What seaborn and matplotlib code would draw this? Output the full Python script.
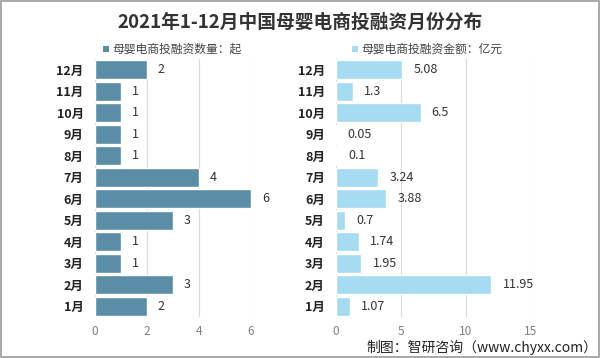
import matplotlib
matplotlib.use("Agg")
import matplotlib.pyplot as plt
import seaborn as sns
import pandas as pd
from matplotlib.patches import Rectangle

months = ["1月", "2月", "3月", "4月", "5月", "6月", "7月", "8月", "9月", "10月", "11月", "12月"]
counts = [2, 3, 1, 1, 3, 6, 4, 1, 1, 1, 1, 2]
amounts = [1.07, 11.95, 1.95, 1.74, 0.7, 3.88, 3.24, 0.1, 0.05, 6.5, 1.3, 5.08]
amount_labels = ["1.07", "11.95", "1.95", "1.74", "0.7", "3.88", "3.24", "0.1", "0.05", "6.5", "1.3", "5.08"]

title = "2021年1-12月中国母婴电商投融资月份分布"
legend_left = "母婴电商投融资数量：起"
legend_right = "母婴电商投融资金额：亿元"
source = "制图：智研咨询（www.chyxx.com）"

sns.set_theme(style="white")
plt.rcParams['font.family'] = ['Noto Sans CJK SC', 'DejaVu Sans']

df = pd.DataFrame({"month": months, "count": counts, "amount": amounts})
order = months[::-1]

fig = plt.figure(figsize=(6.0, 3.58), dpi=100)
fig.patch.set_facecolor("white")
fig.add_artist(Rectangle((0.001, 0.002), 0.997, 0.995, transform=fig.transFigure,
                         fill=False, edgecolor="#9a9a9a", linewidth=1.2))

ax1 = fig.add_axes([0.158, 0.115, 0.26, 0.72])
ax2 = fig.add_axes([0.56, 0.115, 0.325, 0.72])

c1 = "#5b8ea6"
c2 = "#a6dcf2"

sns.barplot(data=df, y="month", x="count", order=order, color=c1, ax=ax1,
            width=0.88, saturation=1, orient="h")
sns.barplot(data=df, y="month", x="amount", order=order, color=c2, ax=ax2,
            width=0.88, saturation=1, orient="h")

ax1.set_xlim(0, 6)
ax1.set_xticks([0, 2, 4, 6])
ax2.set_xlim(0, 15)
ax2.set_xticks([0, 5, 10, 15])

label_map_count = dict(zip(months, [str(c) for c in counts]))
label_map_amt = dict(zip(months, amount_labels))

ax1.bar_label(ax1.containers[0], labels=[label_map_count[m] for m in order],
              padding=8, fontsize=9, color="#333333")
ax2.bar_label(ax2.containers[0], labels=[label_map_amt[m] for m in order],
              padding=8, fontsize=9, color="#333333")

for ax in (ax1, ax2):
    ax.set_xlabel("")
    ax.set_ylabel("")
    for s in ax.spines.values():
        s.set_visible(False)
    ax.grid(axis="x", color="#d9d9d9", linewidth=0.8)
    ax.set_axisbelow(True)
    ax.tick_params(axis="x", labelsize=8.5, labelcolor="#7f7f7f", length=0, pad=6)
    ax.tick_params(axis="y", labelsize=9, length=0, pad=8)
    for lab in ax.get_yticklabels():
        lab.set_fontweight("bold")
        lab.set_color("#222222")
    ax.set_facecolor("none")

fig.text(0.5, 0.937, title, ha="center", va="center", fontsize=13.5,
         fontweight="bold", color="#333333")

fig.add_artist(Rectangle((0.172, 0.855), 0.009, 0.016, transform=fig.transFigure,
                         facecolor=c1, edgecolor="none"))
fig.text(0.188, 0.863, legend_left, ha="left", va="center", fontsize=8.5, color="#444444")
fig.add_artist(Rectangle((0.587, 0.855), 0.009, 0.016, transform=fig.transFigure,
                         facecolor=c2, edgecolor="none"))
fig.text(0.603, 0.863, legend_right, ha="left", va="center", fontsize=8.5, color="#444444")

fig.text(0.995, 0.03, source, ha="right", va="center", fontsize=10, color="#222222")

fig.savefig("out.png", dpi=100, facecolor="white")
